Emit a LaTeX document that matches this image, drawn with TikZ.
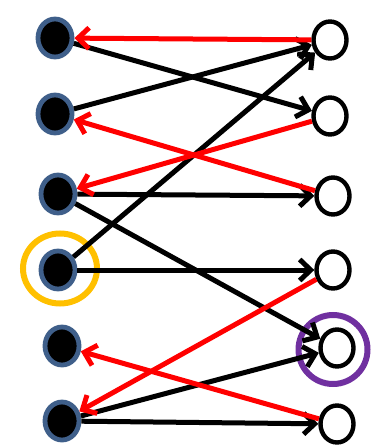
\documentclass[tikz,border=0pt]{standalone}
\usetikzlibrary{arrows.meta,shapes.geometric}
\definecolor{nodeblue}{HTML}{3F5F8A}
\definecolor{ringyellow}{HTML}{FFC000}
\definecolor{ringpurple}{HTML}{7030A0}
\tikzset{
  src/.style={ellipse, draw=nodeblue, fill=black, line width=4.8pt, minimum width=34pt, minimum height=38pt, inner sep=0pt},
  dst/.style={ellipse, draw=black, fill=white, line width=4.4pt, minimum width=33pt, minimum height=37pt, inner sep=0pt},
  ring/.style={line width=6pt},
  fwd/.style={draw=black, line width=5pt, -{Straight Barb[length=11pt,width=21pt]}},
  bwd/.style={draw=red, line width=5pt, -{Straight Barb[length=11pt,width=21pt]}},
}
\begin{document}
\begin{tikzpicture}[x=1pt,y=-1pt]
\useasboundingbox (0,0) rectangle (370,446);
% highlight rings
\draw[ring, draw=ringyellow] (60,268.5) ellipse [x radius=37, y radius=35];
% left column
\node[src] (L1) at (55,38) {};
\node[src] (L2) at (55,114) {};
\node[src] (L3) at (58,194) {};
\node[src] (L4) at (58,270) {};
\node[src] (L5) at (62,346) {};
\node[src] (L6) at (62,421) {};
% right column
\node[dst] (R1) at (330,40) {};
\node[dst] (R2) at (330,116) {};
\node[dst] (R3) at (333,196) {};
\node[dst] (R4) at (333,270) {};
\node[dst] (R5) at (337,348) {};
\node[dst] (R6) at (337,424) {};
\draw[ring, draw=ringpurple] (333,349.5) ellipse [x radius=34.5, y radius=34.5];
% black edges
\draw[fwd] (L1) -- (R2);
\draw[fwd] (L2) -- (R1);
\draw[fwd] (L3) -- (R3);
\draw[fwd] (L4) -- (R1);
\draw[fwd] (L3) -- (R5);
\draw[fwd] (L4) -- (R4);
\draw[fwd] (L6) -- (R5);
\draw[fwd] (L6) -- (R6);
% red edges
\draw[bwd] (R1) -- (L1);
\draw[bwd] (R2) -- (L3);
\draw[bwd] (R3) -- (L2);
\draw[bwd] (R4) -- (L6);
\draw[bwd] (R6) -- (L5);
\end{tikzpicture}
\end{document}
